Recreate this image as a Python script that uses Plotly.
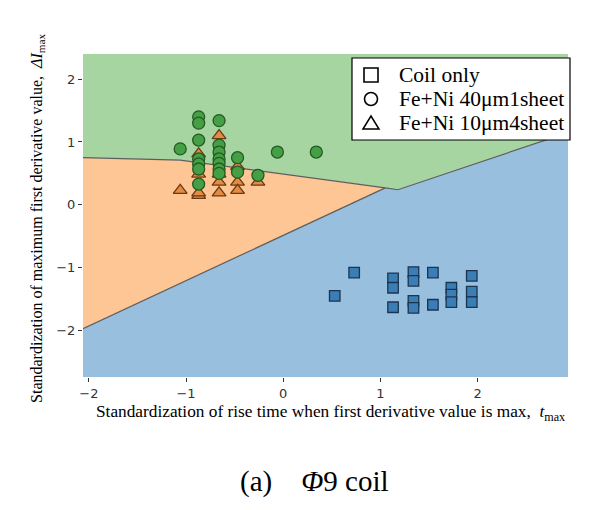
import plotly.graph_objects as go

# ---------------- data ----------------
x_range = [-2.06, 2.93]
y_range = [-2.74, 2.40]

# decision-boundary polylines (data coordinates)
go_bx = [-2.06, -1.06, 1.05]      # green / orange boundary
go_by = [0.75, 0.71, 0.27]
ob_bx = [-2.06, 1.05]             # orange / blue boundary
ob_by = [-1.97, 0.27]
gb_bx = [1.05, 1.18, 2.93]        # green / blue boundary
gb_by = [0.27, 0.24, 1.15]

coil_x = [0.53, 0.73, 1.13, 1.13, 1.13, 1.34, 1.34, 1.34, 1.34, 1.54, 1.54,
          1.73, 1.73, 1.73, 1.94, 1.94, 1.94]
coil_y = [-1.45, -1.08, -1.17, -1.32, -1.63, -1.07, -1.21, -1.53, -1.64, -1.08, -1.59,
          -1.32, -1.43, -1.55, -1.13, -1.38, -1.55]

fe40_x = [-0.87, -0.87, -0.87, -0.87, -0.87, -0.87, -0.87,
          -0.66, -0.66, -0.66, -0.66, -0.66, -0.66, -0.66,
          -1.06, -0.47, -0.47, -0.26, -0.06, 0.34]
fe40_y = [1.40, 1.30, 1.03, 0.73, 0.65, 0.57, 0.33,
          1.34, 0.95, 0.84, 0.73, 0.66, 0.57, 0.50,
          0.89, 0.75, 0.52, 0.47, 0.84, 0.84]

fe10_x = [-1.06, -0.87, -0.87, -0.87, -0.87, -0.66, -0.66, -0.66, -0.66,
          -0.47, -0.47, -0.47, -0.26]
fe10_y = [0.23, 0.15, 0.19, 0.49, 0.81, 1.10, 0.36, 0.19, 0.49,
          0.36, 0.23, 0.61, 0.36]

legend_names = ["Coil only", "Fe+Ni 40\u03bcm1sheet", "Fe+Ni 10\u03bcm4sheet"]
x_ticks = [-2, -1, 0, 1, 2]
y_ticks = [-2, -1, 0, 1, 2]
tick_text = ["\u22122", "\u22121", "0", "1", "2"]

# ---------------- figure ----------------
GREEN_BG = "#a6d5a1"
ORANGE_BG = "#fec694"
BLUE_BG = "#98bfdd"

W, H = 590, 502
ML, MR, MT, MB = 75, 30, 46, 133
PW = W - ML - MR
PH = H - MT - MB
OFF = 8  # page body margin


def px2x(wx):
    return (wx - OFF - ML) / PW


def px2y(wy):
    return 1 - (wy - OFF - MT) / PH


x0, x1 = x_range
y0, y1 = y_range

fig = go.Figure()

# green region
gx = [x0] + go_bx + gb_bx[1:] + [x1, x0]
gy = [y1] + go_by + gb_by[1:] + [y1, y1]
fig.add_trace(go.Scatter(x=gx, y=gy, fill="toself", fillcolor=GREEN_BG, mode="none",
                         showlegend=False, hoverinfo="skip"))
# orange region
ox = go_bx + ob_bx[::-1]
oy = go_by + ob_by[::-1]
fig.add_trace(go.Scatter(x=ox, y=oy, fill="toself", fillcolor=ORANGE_BG, mode="none",
                         showlegend=False, hoverinfo="skip"))
# blue region
bx = ob_bx + gb_bx[1:] + [x1, x0]
by = ob_by + gb_by[1:] + [y0, y0]
fig.add_trace(go.Scatter(x=bx, y=by, fill="toself", fillcolor=BLUE_BG, mode="none",
                         showlegend=False, hoverinfo="skip"))

# boundary lines
for lx, ly in [(go_bx, go_by), (ob_bx, ob_by), (gb_bx, gb_by)]:
    fig.add_trace(go.Scatter(x=lx, y=ly, mode="lines",
                             line=dict(color="#5e5e5e", width=1.2),
                             showlegend=False, hoverinfo="skip"))

# data points
fig.add_trace(go.Scatter(x=coil_x, y=coil_y, mode="markers", name=legend_names[0],
                         showlegend=False,
                         marker=dict(symbol="square", size=10.5, color="#3b7db5",
                                     line=dict(color="#1b3550", width=1.3))))
fig.add_trace(go.Scatter(x=fe10_x, y=fe10_y, mode="markers", name=legend_names[2],
                         showlegend=False,
                         marker=dict(symbol="triangle-up", size=12, color="#e38b43",
                                     line=dict(color="#6b3a14", width=1.3))))
fig.add_trace(go.Scatter(x=fe40_x, y=fe40_y, mode="markers", name=legend_names[1],
                         showlegend=False,
                         marker=dict(symbol="circle", size=12, color="#45a045",
                                     line=dict(color="#245a24", width=1.3))))

serif = "Liberation Serif, Times New Roman, serif"

# ---- legend box drawn with shapes + text ----
shapes = [dict(type="rect", xref="paper", yref="paper",
               x0=px2x(352), x1=px2x(570), y0=px2y(140), y1=px2y(58),
               fillcolor="white", line=dict(color="black", width=1.2), layer="above")]
row_y = [75, 99, 123]
sym_l, sym_r = 364, 378
# square
shapes.append(dict(type="rect", xref="paper", yref="paper",
                   x0=px2x(sym_l), x1=px2x(sym_r), y0=px2y(row_y[0] + 7), y1=px2y(row_y[0] - 7),
                   line=dict(color="black", width=1.6), fillcolor="rgba(0,0,0,0)", layer="above"))
# circle
shapes.append(dict(type="circle", xref="paper", yref="paper",
                   x0=px2x(sym_l + 0.5), x1=px2x(sym_r - 0.5), y0=px2y(row_y[1] + 6.5), y1=px2y(row_y[1] - 6.5),
                   line=dict(color="black", width=1.6), fillcolor="rgba(0,0,0,0)", layer="above"))
# triangle
tx = [px2x(sym_l - 1), px2x((sym_l + sym_r) / 2), px2x(sym_r + 1)]
ty = [px2y(row_y[2] + 6), px2y(row_y[2] - 7), px2y(row_y[2] + 6)]
shapes.append(dict(type="path", xref="paper", yref="paper",
                   path=f"M {tx[0]} {ty[0]} L {tx[1]} {ty[1]} L {tx[2]} {ty[2]} Z",
                   line=dict(color="black", width=1.5), fillcolor="rgba(0,0,0,0)", layer="above"))

annotations = [
    dict(text="Standardization of rise time when first derivative value is max,&nbsp; <i>t</i><sub>max</sub>",
         xref="paper", yref="paper", x=0.511, y=-0.111, showarrow=False,
         xanchor="center", yanchor="middle",
         font=dict(family=serif, size=17.3, color="black")),
    dict(text="Standardization of maximum first derivative value,&nbsp; <i>\u0394I</i><sub>max</sub>",
         xref="paper", yref="paper", x=-0.095, y=px2y(218), showarrow=False,
         textangle=-90, xanchor="center", yanchor="middle",
         font=dict(family=serif, size=16, color="black")),
    dict(text="(a)&nbsp;&nbsp;&nbsp; <i>\u03a6</i>9 coil",
         xref="paper", yref="paper", x=0.478, y=-0.322, showarrow=False,
         xanchor="center", yanchor="middle",
         font=dict(family=serif, size=29, color="black")),
]
for name, ry in zip(legend_names, row_y):
    annotations.append(dict(text=name, xref="paper", yref="paper",
                            x=px2x(397), y=px2y(ry), showarrow=False,
                            xanchor="left", yanchor="middle",
                            font=dict(family=serif, size=21.5, color="black")))

fig.update_layout(
    width=W, height=H,
    margin=dict(l=ML, r=MR, t=MT, b=MB),
    paper_bgcolor="white", plot_bgcolor="white",
    showlegend=False,
    xaxis=dict(range=x_range, tickvals=x_ticks, ticktext=tick_text,
               showgrid=False, zeroline=False, showline=False,
               ticks="outside", ticklen=4, tickcolor="#333",
               tickfont=dict(family="DejaVu Sans", size=13, color="#333")),
    yaxis=dict(range=y_range, tickvals=y_ticks, ticktext=tick_text,
               showgrid=False, zeroline=False, showline=False,
               ticks="outside", ticklen=4, tickcolor="#333",
               tickfont=dict(family="DejaVu Sans", size=13, color="#333")),
    shapes=shapes,
    annotations=annotations,
)

fig.write_html("out.html")
